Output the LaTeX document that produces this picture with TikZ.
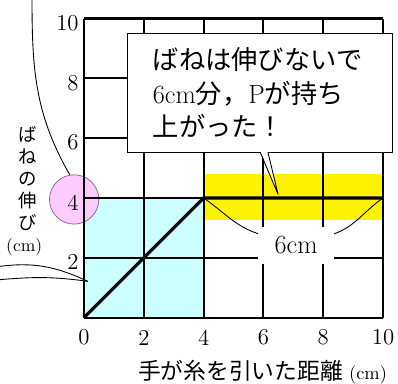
\documentclass[tikz,border=0pt]{standalone}
\usepackage{fontspec}
\newfontfamily\jp{Noto Sans CJK JP}
\definecolor{cyanbg}{HTML}{CCFFFF}
\definecolor{pinkbg}{HTML}{FFCCFF}
\definecolor{pinkline}{HTML}{8C5A8C}
\begin{document}
\begin{tikzpicture}[x=0.6cm, y=0.6cm]
\tikzstyle{grd}=[line width=1.2pt]
\tikzstyle{num}=[font=\fontsize{13}{15}\selectfont, inner sep=0pt]
\tikzstyle{fine}=[line width=0.5pt]
\useasboundingbox (-2.81,-2.21) rectangle (10.50,10.62);

\fill[cyanbg] (0,0) rectangle (4,4);
\fill[yellow] (4,3.27) rectangle (10,4.8);
\node[circle, draw=pinkline, fill=pinkbg, minimum size=0.99cm, inner sep=0pt] (ring) at (-0.33,3.95) {};
\draw[grd] (0,0) grid[step=2] (10,10);

\coordinate (O) at (0,0);
\coordinate (A) at (4,4);
\coordinate (B) at (10,4);
\coordinate (tip) at (6.49,4.12);
\coordinate (pa) at (5.89,5.53);
\coordinate (pb) at (6.15,5.53);
\coordinate (up) at (-1.74,10.8);
\coordinate (wa) at (-2.9,1.70);
\coordinate (wb) at (-2.9,1.26);
\coordinate (wt) at (0.13,1.21);
\draw[line width=1.8pt] (O) -- (A) -- (B);

\foreach \v in {0,2,...,10} \node[num] at (\v,-0.67) {\v};
\foreach \v in {2,4,...,10} \node[num, anchor=east] at (-0.17,\v-0.15) {\v};

\node[font=\jp\fontsize{13}{15}\selectfont] (xlab) at (5.97,-1.83) {手が糸を引いた距離{\rmfamily\fontsize{10.5}{12}\selectfont{} (cm)}};
\node[font=\jp\fontsize{10.5}{12.6}\selectfont, align=center] (ylab) at (-1.87,4.64) {ば\\ね\\の\\伸\\び};
\node[font=\fontsize{10}{12}\selectfont] (yunit) at (-2.0,2.34) {(cm)};

\node[draw, fill=white, fine, text width=4.28cm, inner xsep=0.52cm, minimum height=2.39cm, align=left,
  font=\jp\fontsize{15}{19}\selectfont] (say) at (5.87,7.52)
  {ばねは伸びないで\\{\rmfamily 6cm}分，{\rmfamily P}が持ち\\上がった！};
\fill[white] ([yshift=1pt]pa) -- (tip) -- ([yshift=1pt]pb) -- cycle;
\draw[fine] (pa) -- (tip) -- (pb);

\draw[fine] (A) to[out=-35,in=165] (6.0,2.75);
\draw[fine] (B) to[out=-145,in=15] (8.2,2.75);
\node[fill=white, minimum width=1.52cm, minimum height=0.74cm, font=\fontsize{15}{18}\selectfont] (gap) at (7.09,2.41) {6cm};

\draw[fine] (up) to[out=-90,in=120] (ring.100);
\draw[fine] (wa) to[out=8,in=155] (wt);
\draw[fine] (wb) to[out=5,in=172] (wt);
\end{tikzpicture}
\end{document}
